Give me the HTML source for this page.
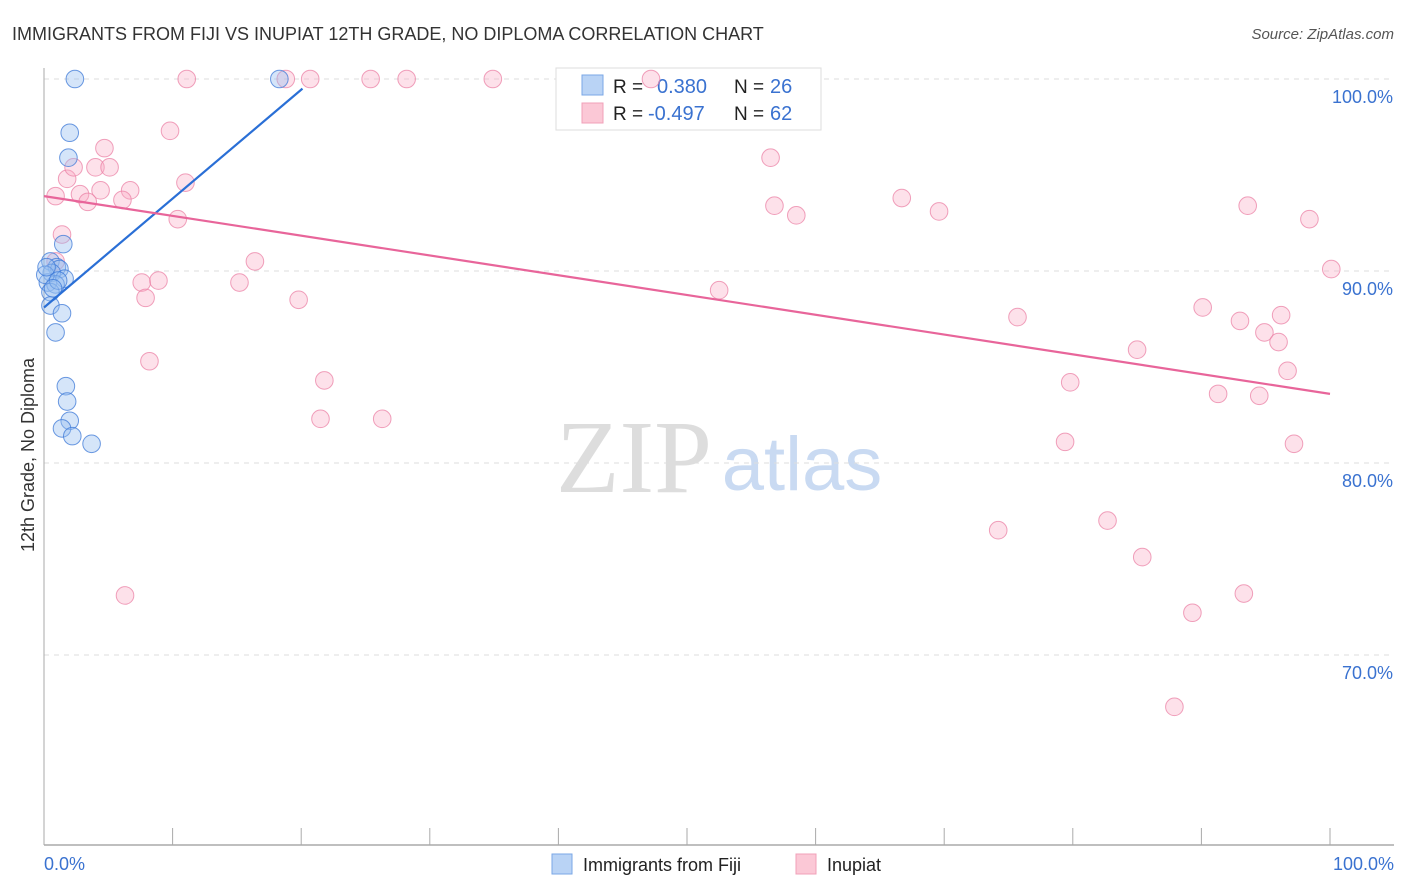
<!DOCTYPE html>
<html><head><meta charset="utf-8">
<style>
body{margin:0;background:#fff;font-family:"Liberation Sans",sans-serif;}
svg{display:block}
</style></head>
<body>
<svg id="chart" width="1406" height="892">
<text x="12" y="40" font-size="18" fill="#333">IMMIGRANTS FROM FIJI VS INUPIAT 12TH GRADE, NO DIPLOMA CORRELATION CHART</text>
<text x="1394" y="39" font-size="15" fill="#555" font-style="italic" text-anchor="end">Source: ZipAtlas.com</text>
<text x="34" y="455" font-size="18" fill="#333" text-anchor="middle" transform="rotate(-90 34 455)">12th Grade, No Diploma</text>
<g>
<text x="634" y="492" font-size="104" fill="#ddd" font-family="Liberation Serif,serif" text-anchor="middle">ZIP</text>
<text x="802" y="490" font-size="76" fill="#c9daf2" text-anchor="middle">atlas</text>
</g>
<g id="grid"></g>
<g>
<rect x="556" y="68" width="265" height="62" fill="#fff" stroke="#ddd"/>
<rect x="582" y="75" width="21" height="20" fill="#b9d3f5" stroke="#7aa7e6"/>
<rect x="582" y="103" width="21" height="20" fill="#fbc8d6" stroke="#f0a0b8"/>
<text x="613" y="93" font-size="19" fill="#222">R = </text><text x="657" y="93" font-size="20" fill="#3a72d0">0.380</text>
<text x="734" y="93" font-size="19" fill="#222">N = </text><text x="770" y="93" font-size="20" fill="#3a72d0">26</text>
<text x="613" y="120" font-size="19" fill="#222">R = </text><text x="648" y="120" font-size="20" fill="#3a72d0">-0.497</text>
<text x="734" y="120" font-size="19" fill="#222">N = </text><text x="770" y="120" font-size="20" fill="#3a72d0">62</text>
</g>
<g id="marks"></g>
<g>
<rect x="552" y="854" width="20" height="20" fill="#b9d3f5" stroke="#7aa7e6"/>
<text x="583" y="871" font-size="18" fill="#222">Immigrants from Fiji</text>
<rect x="796" y="854" width="20" height="20" fill="#fbc8d6" stroke="#f0a0b8"/>
<text x="827" y="871" font-size="18" fill="#222">Inupiat</text>
</g>
<text x="44" y="870" font-size="18" fill="#3a72d0">0.0%</text>
<text x="1394" y="870" font-size="18" fill="#3a72d0" text-anchor="end">100.0%</text>
</svg>
<script>
const yTicks=[100,90,80,70];
const yTickLabels=["100.0%","90.0%","80.0%","70.0%"];
const xTicks=[0,10,20,30,40,50,60,70,80,90,100];
const fijiX=[2.4,18.3,2.0,1.9,1.5,0.5,1.0,1.2,0.6,1.6,0.3,0.9,0.5,0.5,1.4,0.9,1.7,1.8,2.0,1.4,2.2,3.7,0.1,1.1,0.2,0.7];
const fijiY=[100,100,97.2,95.9,91.4,90.5,90.2,90.1,89.9,89.6,89.4,89.3,88.9,88.2,87.8,86.8,84.0,83.2,82.2,81.8,81.4,81.0,89.8,89.5,90.2,89.1];
const inuX=[11.1,18.8,20.7,25.4,28.2,34.9,47.2,9.8,4.7,1.8,2.3,4.0,5.1,11.0,0.9,2.8,4.4,6.7,3.4,6.1,10.4,1.4,16.4,7.6,8.9,15.2,7.9,19.8,8.2,21.8,21.5,26.3,6.3,56.5,56.8,58.5,66.7,69.6,52.5,75.7,79.8,79.4,74.2,82.7,85.4,85.0,90.1,91.3,93.0,94.9,96.0,96.2,96.7,94.5,93.6,98.4,100.1,97.2,89.3,93.3,87.9,0.9];
const inuY=[100,100,100,100,100,100,100,97.3,96.4,94.8,95.4,95.4,95.4,94.6,93.9,94.0,94.2,94.2,93.6,93.7,92.7,91.9,90.5,89.4,89.5,89.4,88.6,88.5,85.3,84.3,82.3,82.3,73.1,95.9,93.4,92.9,93.8,93.1,89.0,87.6,84.2,81.1,76.5,77.0,75.1,85.9,88.1,83.6,87.4,86.8,86.3,87.7,84.8,83.5,93.4,92.7,90.1,81.0,72.2,73.2,67.3,90.5];
const fijiTrendX=[0,20.1];
const fijiTrendY=[88.1,99.5];
const inuTrendX=[0,100];
const inuTrendY=[93.9,83.6];
const NS="http://www.w3.org/2000/svg";
const sx=v=>44+v*12.86;
const sy=v=>79+(100-v)*19.2;
function mk(tag,attrs,parent){const e=document.createElementNS(NS,tag);for(const k in attrs)e.setAttribute(k,attrs[k]);parent.appendChild(e);return e;}
const grid=document.getElementById('grid');
yTicks.forEach((t,i)=>{
  const l=mk('line',{x1:44,x2:1394,y1:sy(t),y2:sy(t),stroke:'#ddd','stroke-dasharray':'5,5'},grid);
  
  
  const tx=mk('text',{x:1393,y:sy(t)+24,'font-size':18,fill:'#3a72d0','text-anchor':'end'},grid);
  tx.textContent=yTickLabels[i];
  
  
});
const ax=mk('line',{x1:44,x2:44,y1:68,y2:845,stroke:'#aaa'},grid);


const bx=mk('line',{x1:44,x2:1394,y1:845,y2:845,stroke:'#aaa','stroke-width':1.5},grid);


xTicks.forEach(t=>{
  const l=mk('line',{x1:sx(t),x2:sx(t),y1:828,y2:845,stroke:'#aaa'},grid);
  
  
});
const marks=document.getElementById('marks');
inuX.forEach((x,i)=>{
  const c=mk('circle',{cx:sx(x),cy:sy(inuY[i]),r:8.8,fill:'rgba(248,170,195,0.35)',stroke:'rgba(235,130,165,0.75)','stroke-width':1},marks);
  
  
});
fijiX.forEach((x,i)=>{
  const c=mk('circle',{cx:sx(x),cy:sy(fijiY[i]),r:8.8,fill:'rgba(150,190,240,0.4)',stroke:'rgba(60,120,215,0.75)','stroke-width':1},marks);
  
  
});
const t1=mk('line',{x1:sx(fijiTrendX[0]),y1:sy(fijiTrendY[0]),x2:sx(fijiTrendX[1]),y2:sy(fijiTrendY[1]),stroke:'#2a6fd6','stroke-width':2.2},marks);


const t2=mk('line',{x1:sx(inuTrendX[0]),y1:sy(inuTrendY[0]),x2:sx(inuTrendX[1]),y2:sy(inuTrendY[1]),stroke:'#e8659a','stroke-width':2.2},marks);


</script>
</body></html>
